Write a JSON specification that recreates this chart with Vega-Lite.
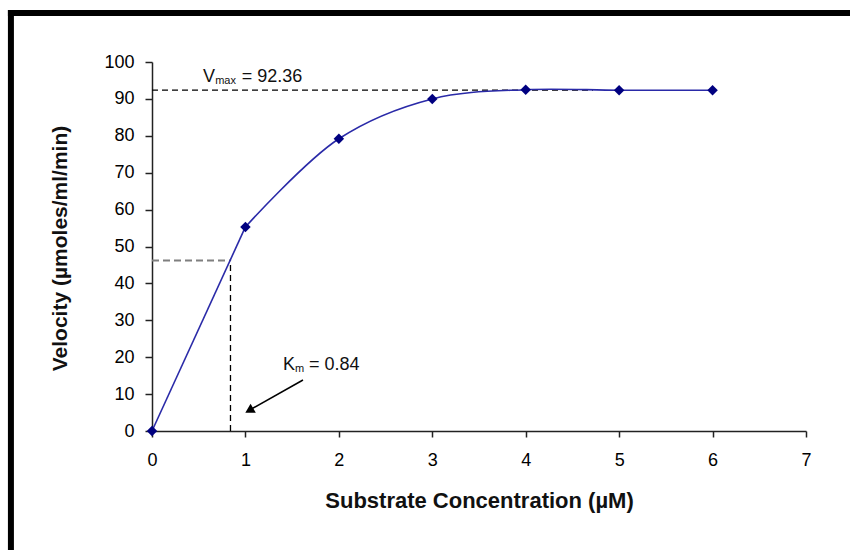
{
  "$schema": "https://vega.github.io/schema/vega-lite/v6.json",
  "width": 654,
  "height": 369,
  "autosize": "none",
  "padding": {"left": 152, "top": 62, "right": 44, "bottom": 119},
  "background": "white",
  "config": {
    "view": {"stroke": null},
    "font": "Liberation Sans",
    "axis": {
      "grid": false,
      "domainColor": "#222222",
      "domainWidth": 1.5,
      "tickColor": "#222222",
      "tickWidth": 1.5,
      "labelFont": "Liberation Sans",
      "labelFontSize": 18,
      "labelColor": "#000000",
      "labelFlush": false,
      "labelOverlap": false,
      "titleFont": "Liberation Sans",
      "titleFontWeight": "bold",
      "titleColor": "#111111"
    }
  },
  "datasets": {
    "obs": [
      {"x": 0, "y": 0},
      {"x": 1, "y": 55.3},
      {"x": 2, "y": 79.2},
      {"x": 3, "y": 90.0},
      {"x": 4, "y": 92.5},
      {"x": 5, "y": 92.36},
      {"x": 6, "y": 92.36}
    ]
  },
  "encoding": {
    "x": {
      "field": "x",
      "type": "quantitative",
      "title": "Substrate Concentration (µM)",
      "scale": {"domain": [0, 7], "nice": false, "zero": false},
      "axis": {
        "values": [0, 1, 2, 3, 4, 5, 6, 7],
        "format": "d",
        "tickSize": 6,
        "labelPadding": 14,
        "titleFontSize": 22,
        "titleX": 327,
        "titleY": 69,
        "titleBaseline": "middle",
        "titleAlign": "center"
      }
    },
    "y": {
      "field": "y",
      "type": "quantitative",
      "title": "Velocity (µmoles/ml/min)",
      "scale": {"domain": [0, 100], "nice": false, "zero": false},
      "axis": {
        "values": [0, 10, 20, 30, 40, 50, 60, 70, 80, 90, 100],
        "format": "d",
        "tickSize": 7,
        "labelPadding": 11,
        "titleFontSize": 21,
        "titleX": -92,
        "titleY": 186,
        "titleBaseline": "middle",
        "titleAngle": -90,
        "titleAlign": "center"
      }
    }
  },
  "layer": [
    {
      "data": {"values": [{"x": -1.51, "x2": 8, "y": 113.28}]},
      "mark": {"type": "rule", "color": "#000000", "strokeWidth": 6, "strokeCap": "square"},
      "encoding": {"x2": {"field": "x2"}}
    },
    {
      "data": {"values": [{"x": -1.51, "y": 113.28, "y2": -45}]},
      "mark": {"type": "rule", "color": "#000000", "strokeWidth": 6, "strokeCap": "square"},
      "encoding": {"y2": {"field": "y2"}}
    },
    {
      "data": {"values": [{"x": 0, "x2": 4.72, "y": 92.36}]},
      "mark": {"type": "rule", "color": "#000000", "strokeWidth": 1.3, "strokeDash": [6, 4]},
      "encoding": {"x2": {"field": "x2"}}
    },
    {
      "data": {"values": [{"x": 0, "x2": 0.84, "y": 46.18}]},
      "mark": {"type": "rule", "color": "#7f7f7f", "strokeWidth": 2, "strokeDash": [7, 4]},
      "encoding": {"x2": {"field": "x2"}}
    },
    {
      "data": {"values": [{"x": 0.84, "y": 0, "y2": 46.18}]},
      "mark": {"type": "rule", "color": "#000000", "strokeWidth": 1.3, "strokeDash": [6, 4]},
      "encoding": {"y2": {"field": "y2"}}
    },
    {
      "data": {"name": "obs"},
      "transform": [{"filter": "datum.x <= 1"}],
      "mark": {"type": "line", "color": "#2a2aa8", "strokeWidth": 1.6},
      "encoding": {}
    },
    {
      "data": {"name": "obs"},
      "transform": [{"filter": "datum.x >= 1"}],
      "mark": {"type": "line", "color": "#2a2aa8", "strokeWidth": 1.6, "interpolate": "catmull-rom"},
      "encoding": {}
    },
    {
      "data": {"name": "obs"},
      "mark": {"type": "point", "shape": "diamond", "filled": true, "color": "#000080", "size": 110, "opacity": 1},
      "encoding": {}
    },
    {
      "data": {"values": [{"x": 1.616, "y": 13.82, "x2": 1.06, "y2": 5.9}]},
      "mark": {"type": "rule", "color": "#000000", "strokeWidth": 1.5},
      "encoding": {"x2": {"field": "x2"}, "y2": {"field": "y2"}}
    },
    {
      "data": {"values": [{"x": 1.041, "y": 5.56}]},
      "mark": {"type": "point", "shape": "triangle-up", "filled": true, "color": "#000000", "size": 110, "angle": 240, "opacity": 1},
      "encoding": {}
    },
    {
      "data": {"values": [
        {"x": 0.546, "y": 96.0, "t": "V"},
        {"x": 0.96, "y": 96.0, "t": "= 92.36"},
        {"x": 1.402, "y": 17.9, "t": "K"},
        {"x": 1.68, "y": 17.9, "t": "= 0.84"}
      ]},
      "mark": {"type": "text", "align": "left", "baseline": "middle", "fontSize": 18, "color": "#111111", "font": "Liberation Sans"},
      "encoding": {"text": {"field": "t"}}
    },
    {
      "data": {"values": [
        {"x": 0.676, "y": 96.0, "t": "max"},
        {"x": 1.53, "y": 17.9, "t": "m"}
      ]},
      "mark": {"type": "text", "align": "left", "baseline": "middle", "fontSize": 11, "dy": 4, "color": "#111111", "font": "Liberation Sans"},
      "encoding": {"text": {"field": "t"}}
    }
  ]
}
